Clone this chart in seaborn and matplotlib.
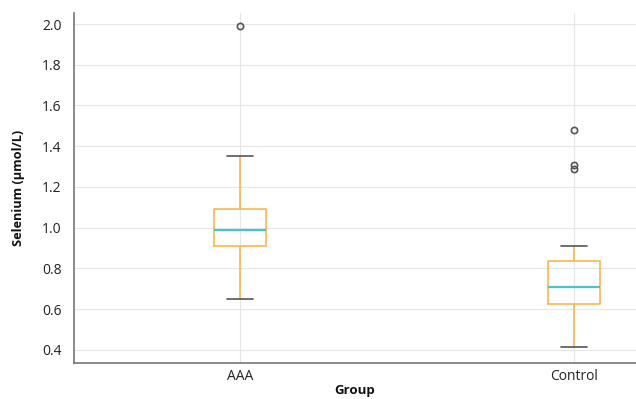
import matplotlib
matplotlib.use("Agg")
import matplotlib.pyplot as plt
import seaborn as sns

groups = ["AAA", "Control"]
whisker_low = [0.65, 0.413]
q1 = [0.910, 0.626]
median = [0.989, 0.707]
q3 = [1.092, 0.837]
whisker_high = [1.352, 0.910]
outliers = [[1.99], [1.48, 1.31, 1.29]]
yticks = [0.4, 0.6, 0.8, 1.0, 1.2, 1.4, 1.6, 1.8, 2.0]

sns.set_theme(style="whitegrid")
plt.rcParams["font.family"] = ["Open Sans", "DejaVu Sans"]

fig = plt.figure(figsize=(6.36, 3.99), dpi=100)
ax = fig.add_axes([0.1164, 0.0902, 0.8836, 0.8772])

stats = []
for i, g in enumerate(groups):
    stats.append(dict(label=g, whislo=whisker_low[i], q1=q1[i], med=median[i],
                      q3=q3[i], whishi=whisker_high[i], fliers=outliers[i]))

box_c = "#F7B84B"
ax.bxp(stats, positions=[0, 1], widths=0.155, patch_artist=False,
       boxprops=dict(color=box_c, linewidth=1.2),
       whiskerprops=dict(color=box_c, linewidth=1.2),
       capprops=dict(color="#555555", linewidth=1.2),
       medianprops=dict(color="#4CC3C9", linewidth=1.6),
       flierprops=dict(marker="o", markerfacecolor="none", markeredgecolor="#555555",
                       markersize=4.5, markeredgewidth=1.2))

ax.set_xlim(-0.497, 1.186)
ax.set_ylim(0.336, 2.054)
ax.set_yticks(yticks)
ax.set_yticklabels([f"{v:.1f}" for v in yticks])
ax.set_xticks([0, 1])
ax.set_xticklabels(groups)

ax.grid(True, color="#e6e6e6", linewidth=0.8)
for s in ["top", "right"]:
    ax.spines[s].set_visible(False)
for s in ["left", "bottom"]:
    ax.spines[s].set_visible(True)
    ax.spines[s].set_color("#777777")
    ax.spines[s].set_linewidth(1.2)

ax.tick_params(axis="both", labelsize=10, colors="#222222", length=2, width=0.8,
               direction="in", pad=4)
ax.tick_params(axis="y", pad=9)
ax.set_xlabel("Group", fontsize=9.5, fontweight="bold", labelpad=0, color="#111111")
ax.set_ylabel("Selenium (µmol/L)", fontsize=9.2, fontweight="bold", labelpad=12, color="#111111")

fig.savefig("out.png", dpi=100)
